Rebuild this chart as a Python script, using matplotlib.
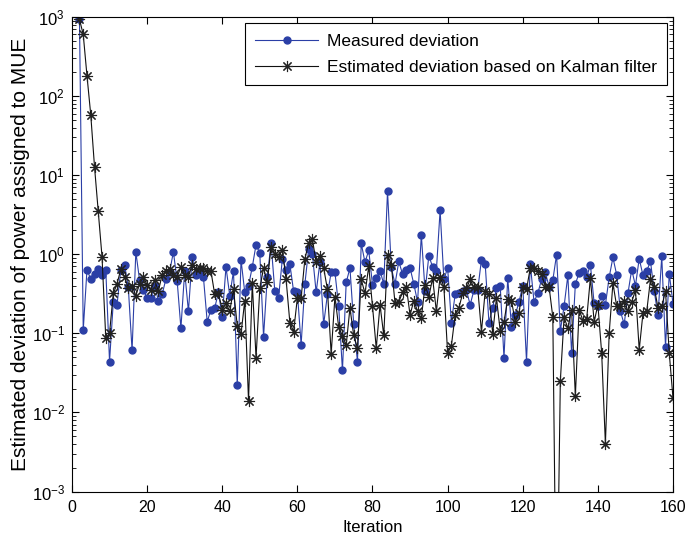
import numpy as np
import matplotlib.pyplot as plt
from matplotlib.ticker import LogLocator, NullFormatter

plt.rcParams['font.family'] = ['Liberation Sans', 'DejaVu Sans']
plt.rcParams['mathtext.fontset'] = 'custom'
plt.rcParams['mathtext.rm'] = 'Liberation Sans'

# iterations 2..160
iteration = np.arange(2, 161)

measured = [
    930, 0.11, 0.64, 0.48, 0.56, 0.66, 0.54, 0.64, 0.044, 0.25,
    0.23, 0.64, 0.74, 0.38, 0.061, 1.07, 0.47, 0.355, 0.28, 0.28,
    0.40, 0.26, 0.31, 0.485, 0.6, 1.07, 0.46, 0.116, 0.61, 0.19,
    0.91, 0.54, 0.62, 0.51, 0.14, 0.20, 0.21, 0.33, 0.16, 0.69,
    0.30, 0.61, 0.022, 0.85, 0.33, 0.40, 0.69, 1.32, 1.03, 0.091,
    0.52, 1.38, 0.34, 0.28, 0.87, 0.64, 0.75, 0.34, 0.33, 0.072,
    0.42, 1.16, 1.0, 0.33, 0.79, 0.13, 0.31, 0.59, 0.59, 0.22,
    0.034, 0.44, 0.67, 0.13, 0.044, 1.37, 0.79, 1.12, 0.41, 0.50,
    0.62, 0.42, 6.3, 0.68, 0.42, 0.81, 0.56, 0.64, 0.67, 0.42,
    0.25, 1.75, 0.34, 0.96, 0.69, 0.62, 3.6, 0.48, 0.67, 0.137,
    0.31, 0.32, 0.34, 0.35, 0.23, 0.35, 0.35, 0.85, 0.75, 0.137,
    0.21, 0.37, 0.40, 0.049, 0.50, 0.12, 0.17, 0.25, 0.40, 0.044,
    0.75, 0.25, 0.32, 0.48, 0.59, 0.39, 0.47, 0.99, 0.107, 0.22,
    0.54, 0.056, 0.42, 0.58, 0.61, 0.51, 0.74, 0.24, 0.22, 0.3,
    0.23, 0.51, 0.91, 0.55, 0.19, 0.13, 0.32, 0.64, 0.40, 0.88,
    0.54, 0.62, 0.81, 0.34, 0.17, 0.94, 0.068, 0.57, 0.235,
]

kalman = [
    930, 600, 180, 58, 12.8, 3.5, 0.93, 0.087, 0.1, 0.32,
    0.42, 0.65, 0.52, 0.37, 0.40, 0.30, 0.42, 0.52, 0.41, 0.355,
    0.47, 0.34, 0.55, 0.62, 0.65, 0.55, 0.52, 0.69, 0.55, 0.52,
    0.74, 0.65, 0.67, 0.67, 0.62, 0.61, 0.31, 0.32, 0.20, 0.24,
    0.19, 0.36, 0.124, 0.098, 0.26, 0.014, 0.43, 0.049, 0.37, 0.67,
    0.44, 1.25, 1.0, 0.92, 1.14, 0.48, 0.137, 0.105, 0.28, 0.28,
    0.87, 1.38, 1.55, 0.79, 0.96, 0.67, 0.36, 0.055, 0.29, 0.12,
    0.093, 0.071, 0.21, 0.094, 0.065, 0.48, 0.32, 0.70, 0.22, 0.065,
    0.23, 0.094, 0.99, 0.74, 0.24, 0.25, 0.33, 0.39, 0.17, 0.26,
    0.19, 0.155, 0.41, 0.29, 0.50, 0.19, 0.52, 0.39, 0.056, 0.07,
    0.17, 0.21, 0.32, 0.37, 0.48, 0.38, 0.38, 0.105, 0.34, 0.31,
    0.099, 0.28, 0.107, 0.14, 0.27, 0.26, 0.14, 0.18, 0.39, 0.36,
    0.67, 0.67, 0.61, 0.56, 0.39, 0.39, 0.16, 1e-5, 0.025, 0.16,
    0.116, 0.2, 0.016, 0.2, 0.145, 0.15, 0.50, 0.14, 0.23, 0.057,
    0.004, 0.1, 0.43, 0.22, 0.22, 0.26, 0.19, 0.25, 0.35, 0.062,
    0.18, 0.19, 0.48, 0.38, 0.21, 0.22, 0.34, 0.056, 0.015,
]

fig = plt.figure(figsize=(6.9, 5.43), dpi=100)
ax = fig.add_axes([0.1043, 0.0948, 0.8711, 0.874])

ax.semilogy(iteration, measured, '-o', color='#2b3fa6', lw=0.8,
            markersize=5, markerfacecolor='#2b3fa6', markeredgecolor='#2b3fa6',
            label='Measured deviation')
# MATLAB-style asterisk marker (8 arms)
ax.semilogy(iteration, kalman, '-', color='#111111', lw=0.8,
            marker=(8, 2, 0), markersize=8, markeredgewidth=0.8,
            markeredgecolor='#222222',
            label='Estimated deviation based on Kalman filter')

ax.set_xlim(0, 160)
ax.set_ylim(1e-3, 1e3)
ax.set_xticks(np.arange(0, 161, 20))
ax.yaxis.set_major_locator(LogLocator(base=10, numticks=10))
ax.yaxis.set_minor_locator(LogLocator(base=10, subs=np.arange(2, 10), numticks=20))
ax.yaxis.set_minor_formatter(NullFormatter())
ax.tick_params(which='both', direction='in', top=True, right=True)
ax.tick_params(axis='x', labelsize=11.5, pad=6)
ax.tick_params(axis='y', labelsize=12, pad=5)
ax.tick_params(which='major', length=5)
ax.tick_params(which='minor', length=3)
for s in ax.spines.values():
    s.set_linewidth(0.8)

ax.set_xlabel('Iteration', fontsize=12, labelpad=4)
ax.set_ylabel('Estimated deviation of power assigned to MUE', fontsize=15, labelpad=1)

leg = ax.legend(loc='upper right', fontsize=12.5, handlelength=3.6, fancybox=False,
                framealpha=1, edgecolor='black', borderaxespad=0.35,
                borderpad=0.6, labelspacing=0.65, handletextpad=0.5)
leg.get_frame().set_linewidth(0.8)

fig.savefig('out.png', dpi=100)
